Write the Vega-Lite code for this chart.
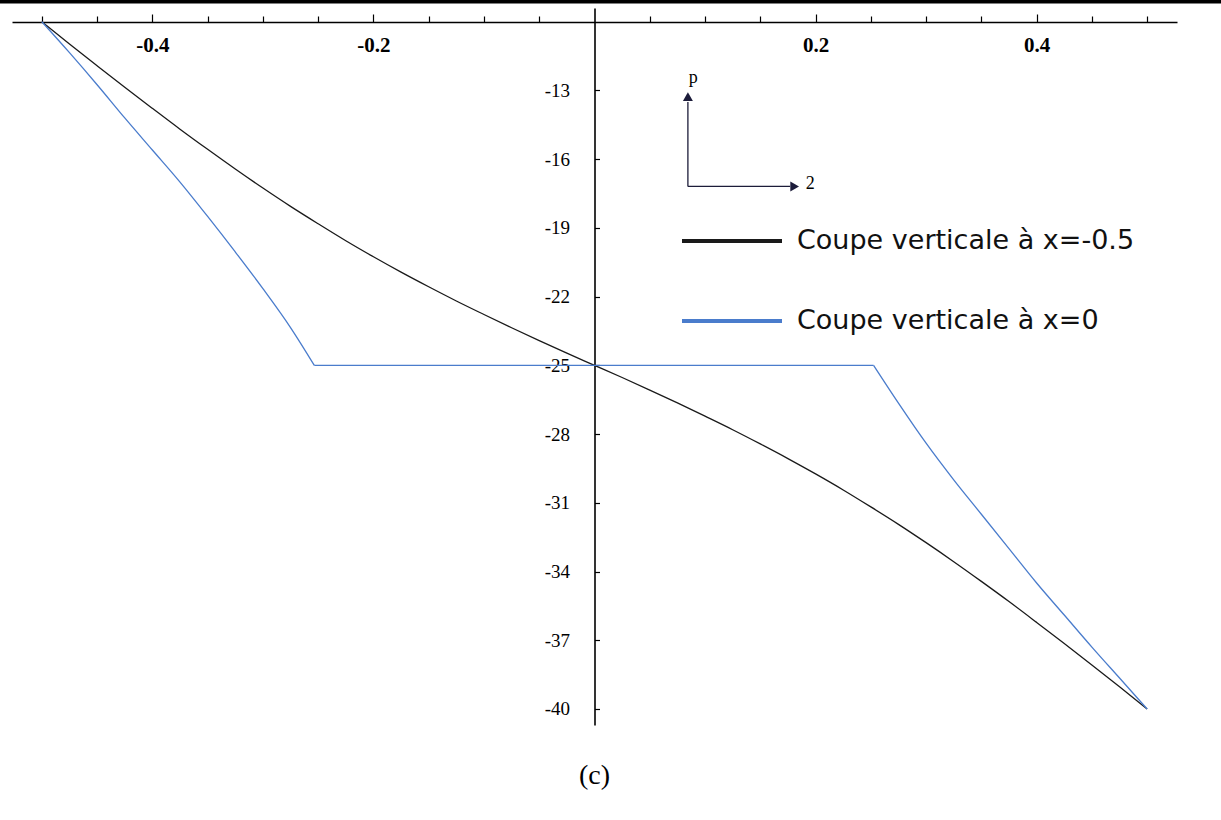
{
  "$schema": "https://vega.github.io/schema/vega-lite/v6.json",
  "width": 1165,
  "height": 717,
  "autosize": {"type": "none"},
  "padding": {"left": 12, "top": 8, "right": 44, "bottom": 95},
  "background": "white",
  "config": {"view": {"stroke": null}},
  "title": {"text": "(c)", "orient": "bottom", "frame": "group", "anchor": "middle", "offset": 37, "font": "Liberation Serif", "fontSize": 28, "fontWeight": "normal", "color": "#000000"},
  "datasets": {
    "curves": [
      {"series": "Coupe verticale à x=-0.5", "part": "a", "x": -0.5, "p": -10.0},
      {"series": "Coupe verticale à x=-0.5", "part": "a", "x": -0.475, "p": -10.97},
      {"series": "Coupe verticale à x=-0.5", "part": "a", "x": -0.45, "p": -11.92},
      {"series": "Coupe verticale à x=-0.5", "part": "a", "x": -0.425, "p": -12.86},
      {"series": "Coupe verticale à x=-0.5", "part": "a", "x": -0.4, "p": -13.78},
      {"series": "Coupe verticale à x=-0.5", "part": "a", "x": -0.375, "p": -14.69},
      {"series": "Coupe verticale à x=-0.5", "part": "a", "x": -0.35, "p": -15.57},
      {"series": "Coupe verticale à x=-0.5", "part": "a", "x": -0.325, "p": -16.43},
      {"series": "Coupe verticale à x=-0.5", "part": "a", "x": -0.3, "p": -17.26},
      {"series": "Coupe verticale à x=-0.5", "part": "a", "x": -0.275, "p": -18.06},
      {"series": "Coupe verticale à x=-0.5", "part": "a", "x": -0.25, "p": -18.82},
      {"series": "Coupe verticale à x=-0.5", "part": "a", "x": -0.225, "p": -19.56},
      {"series": "Coupe verticale à x=-0.5", "part": "a", "x": -0.2, "p": -20.26},
      {"series": "Coupe verticale à x=-0.5", "part": "a", "x": -0.175, "p": -20.93},
      {"series": "Coupe verticale à x=-0.5", "part": "a", "x": -0.15, "p": -21.57},
      {"series": "Coupe verticale à x=-0.5", "part": "a", "x": -0.125, "p": -22.19},
      {"series": "Coupe verticale à x=-0.5", "part": "a", "x": -0.1, "p": -22.78},
      {"series": "Coupe verticale à x=-0.5", "part": "a", "x": -0.075, "p": -23.36},
      {"series": "Coupe verticale à x=-0.5", "part": "a", "x": -0.05, "p": -23.92},
      {"series": "Coupe verticale à x=-0.5", "part": "a", "x": -0.025, "p": -24.47},
      {"series": "Coupe verticale à x=-0.5", "part": "a", "x": 0.0, "p": -25.0},
      {"series": "Coupe verticale à x=-0.5", "part": "a", "x": 0.025, "p": -25.53},
      {"series": "Coupe verticale à x=-0.5", "part": "a", "x": 0.05, "p": -26.08},
      {"series": "Coupe verticale à x=-0.5", "part": "a", "x": 0.075, "p": -26.64},
      {"series": "Coupe verticale à x=-0.5", "part": "a", "x": 0.1, "p": -27.22},
      {"series": "Coupe verticale à x=-0.5", "part": "a", "x": 0.125, "p": -27.81},
      {"series": "Coupe verticale à x=-0.5", "part": "a", "x": 0.15, "p": -28.43},
      {"series": "Coupe verticale à x=-0.5", "part": "a", "x": 0.175, "p": -29.07},
      {"series": "Coupe verticale à x=-0.5", "part": "a", "x": 0.2, "p": -29.74},
      {"series": "Coupe verticale à x=-0.5", "part": "a", "x": 0.225, "p": -30.44},
      {"series": "Coupe verticale à x=-0.5", "part": "a", "x": 0.25, "p": -31.18},
      {"series": "Coupe verticale à x=-0.5", "part": "a", "x": 0.275, "p": -31.94},
      {"series": "Coupe verticale à x=-0.5", "part": "a", "x": 0.3, "p": -32.74},
      {"series": "Coupe verticale à x=-0.5", "part": "a", "x": 0.325, "p": -33.57},
      {"series": "Coupe verticale à x=-0.5", "part": "a", "x": 0.35, "p": -34.43},
      {"series": "Coupe verticale à x=-0.5", "part": "a", "x": 0.375, "p": -35.31},
      {"series": "Coupe verticale à x=-0.5", "part": "a", "x": 0.4, "p": -36.22},
      {"series": "Coupe verticale à x=-0.5", "part": "a", "x": 0.425, "p": -37.14},
      {"series": "Coupe verticale à x=-0.5", "part": "a", "x": 0.45, "p": -38.08},
      {"series": "Coupe verticale à x=-0.5", "part": "a", "x": 0.475, "p": -39.03},
      {"series": "Coupe verticale à x=-0.5", "part": "a", "x": 0.5, "p": -40.0},
      {"series": "Coupe verticale à x=0", "part": "left", "x": -0.5, "p": -10.0},
      {"series": "Coupe verticale à x=0", "part": "left", "x": -0.475, "p": -11.35},
      {"series": "Coupe verticale à x=0", "part": "left", "x": -0.45, "p": -12.75},
      {"series": "Coupe verticale à x=0", "part": "left", "x": -0.425, "p": -14.2},
      {"series": "Coupe verticale à x=0", "part": "left", "x": -0.4, "p": -15.6},
      {"series": "Coupe verticale à x=0", "part": "left", "x": -0.375, "p": -17.0},
      {"series": "Coupe verticale à x=0", "part": "left", "x": -0.35, "p": -18.5},
      {"series": "Coupe verticale à x=0", "part": "left", "x": -0.325, "p": -20.05},
      {"series": "Coupe verticale à x=0", "part": "left", "x": -0.3, "p": -21.65},
      {"series": "Coupe verticale à x=0", "part": "left", "x": -0.275, "p": -23.35},
      {"series": "Coupe verticale à x=0", "part": "left", "x": -0.2535, "p": -25.0},
      {"series": "Coupe verticale à x=0", "part": "flat", "x": -0.2535, "p": -25.0},
      {"series": "Coupe verticale à x=0", "part": "flat", "x": 0.0, "p": -25.0},
      {"series": "Coupe verticale à x=0", "part": "flat", "x": 0.2525, "p": -25.0},
      {"series": "Coupe verticale à x=0", "part": "right", "x": 0.2525, "p": -25.0},
      {"series": "Coupe verticale à x=0", "part": "right", "x": 0.275, "p": -26.65},
      {"series": "Coupe verticale à x=0", "part": "right", "x": 0.3, "p": -28.4},
      {"series": "Coupe verticale à x=0", "part": "right", "x": 0.325, "p": -30.0},
      {"series": "Coupe verticale à x=0", "part": "right", "x": 0.35, "p": -31.5},
      {"series": "Coupe verticale à x=0", "part": "right", "x": 0.375, "p": -33.0},
      {"series": "Coupe verticale à x=0", "part": "right", "x": 0.4, "p": -34.5},
      {"series": "Coupe verticale à x=0", "part": "right", "x": 0.425, "p": -35.9},
      {"series": "Coupe verticale à x=0", "part": "right", "x": 0.45, "p": -37.3},
      {"series": "Coupe verticale à x=0", "part": "right", "x": 0.475, "p": -38.65},
      {"series": "Coupe verticale à x=0", "part": "right", "x": 0.5, "p": -40.0}
    ]
  },
  "layer": [
    {
      "data": {"name": "curves"},
      "mark": {"type": "line", "strokeWidth": 1.3, "interpolate": "monotone"},
      "encoding": {
        "x": {
          "field": "x", "type": "quantitative",
          "scale": {"domain": [-0.527, 0.527], "nice": false, "zero": false},
          "axis": {
            "orient": "top", "offset": -14, "title": null, "grid": false,
            "values": [-0.5, -0.45, -0.4, -0.35, -0.3, -0.25, -0.2, -0.15, -0.1, -0.05, 0.05, 0.1, 0.15, 0.2, 0.25, 0.3, 0.35, 0.4, 0.45, 0.5],
            "domainColor": "#000000", "domainWidth": 1.6,
            "tickColor": "#000000", "tickWidth": 1.2,
            "tickSize": {"condition": {"test": "abs(abs(datum.value) - 0.3) > 0.09 && abs(datum.value) > 0.15 && abs(datum.value) < 0.45", "value": 8}, "value": 6},
            "labelExpr": "abs(abs(datum.value) - 0.3) > 0.09 && abs(datum.value) > 0.15 && abs(datum.value) < 0.45 ? replace(format(datum.value, '.1f'), '\u2212', '-') : ''",
            "labelFont": "Liberation Serif", "labelFontSize": 21, "labelFontWeight": "bold", "labelColor": "#000000",
            "labelBaseline": "alphabetic", "labelPadding": -37, "labelOverlap": false, "labelFlush": false, "labelBound": false
          }
        },
        "y": {
          "field": "p", "type": "quantitative",
          "scale": {"domain": [-40.7, -9.4], "nice": false, "zero": false},
          "axis": {
            "orient": "right", "offset": -582.5, "title": null, "grid": false,
            "values": [-11.5, -13, -14.5, -16, -17.5, -19, -20.5, -22, -23.5, -25, -26.5, -28, -29.5, -31, -32.5, -34, -35.5, -37, -38.5, -40],
            "domainColor": "#000000", "domainWidth": 1.6,
            "tickColor": "#000000", "tickWidth": 1.2, "tickSize": 5,
            "labelExpr": "datum.value % 3 == -1 ? replace(format(datum.value, 'd'), '\u2212', '-') : ''",
            "labelFont": "Liberation Serif", "labelFontSize": 19, "labelColor": "#000000",
            "labelAlign": "right", "labelBaseline": "middle", "labelPadding": -30,
            "labelOverlap": false, "labelFlush": false, "labelBound": false
          }
        },
        "detail": {"field": "part", "type": "nominal"},
        "color": {
          "field": "series", "type": "nominal",
          "scale": {"domain": ["Coupe verticale à x=-0.5", "Coupe verticale à x=0"], "range": ["#1a1a1a", "#4a7ccc"]},
          "legend": {
            "orient": "none", "legendX": 668, "legendY": 216, "title": null, "padding": 0,
            "symbolType": "stroke", "symbolSize": 10000, "symbolStrokeWidth": 4,
            "labelFont": "DejaVu Sans", "labelFontSize": 27, "labelColor": "#111111", "labelOffset": 13,
            "clipHeight": 34, "rowPadding": 46, "labelLimit": 500
          }
        }
      }
    },
    {
      "data": {"values": [{}]},
      "mark": {"type": "rule", "color": "#000000", "strokeWidth": 3.4},
      "encoding": {"x": {"datum": -0.538}, "x2": {"datum": 0.567}, "y": {"datum": -9.125}}
    },
    {
      "data": {"values": [{}]},
      "mark": {"type": "rule", "color": "#1c1c3a", "strokeWidth": 1.3},
      "encoding": {"x": {"datum": 0.0845}, "y": {"datum": -17.19}, "y2": {"datum": -13.5}}
    },
    {
      "data": {"values": [{}]},
      "mark": {"type": "rule", "color": "#1c1c3a", "strokeWidth": 1.3},
      "encoding": {"x": {"datum": 0.0845}, "x2": {"datum": 0.177}, "y": {"datum": -17.19}}
    },
    {
      "data": {"values": [{}]},
      "mark": {"type": "point", "shape": "triangle-up", "filled": true, "size": 100, "color": "#1c1c3a", "opacity": 1},
      "encoding": {"x": {"datum": 0.0845}, "y": {"datum": -13.27}}
    },
    {
      "data": {"values": [{}]},
      "mark": {"type": "point", "shape": "triangle-right", "filled": true, "size": 100, "color": "#1c1c3a", "opacity": 1},
      "encoding": {"x": {"datum": 0.1811}, "y": {"datum": -17.19}}
    },
    {
      "data": {"values": [{}]},
      "mark": {"type": "text", "text": "p", "font": "Liberation Serif", "fontSize": 18, "color": "#000000", "align": "center", "baseline": "alphabetic"},
      "encoding": {"x": {"datum": 0.0894}, "y": {"datum": -12.674}}
    },
    {
      "data": {"values": [{}]},
      "mark": {"type": "text", "text": "2", "font": "Liberation Serif", "fontSize": 18, "color": "#000000", "align": "left", "baseline": "alphabetic"},
      "encoding": {"x": {"datum": 0.1911}, "y": {"datum": -17.315}}
    }
  ]
}
